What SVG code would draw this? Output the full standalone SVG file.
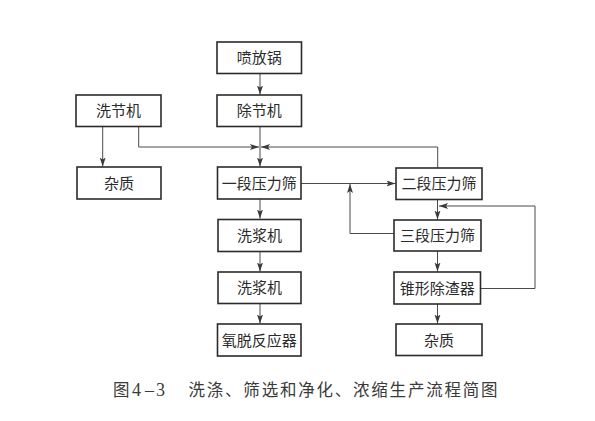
<svg xmlns="http://www.w3.org/2000/svg" width="595" height="421" viewBox="0 0 595 421">
<style>
.box rect{fill:#fff;stroke:#2b2b2b;stroke-width:1.6}
.box text{font-family:"Noto Sans CJK SC","Noto Sans CJK JP",sans-serif;font-size:15px;fill:#2b2b2b;text-anchor:middle}
.conn path{fill:none;stroke:#4a4a4a;stroke-width:1}
.cap{font-size:16.5px;fill:#3a3a3a}
.num{font-family:"Liberation Serif",serif;font-size:18px;fill:#3a3a3a}
</style>
<defs>
<marker id="ah" markerUnits="userSpaceOnUse" markerWidth="10" markerHeight="7" refX="9" refY="3" orient="auto">
<path d="M0,0 L9,3 L0,6 L2,3 Z" fill="#3a3a3a"/>
</marker>
</defs>
<rect width="595" height="421" fill="#fff"/>
<g class="conn">
<path d="M260,73.5 V94.5" marker-end="url(#ah)"/>
<path d="M260,126.5 V166.5" marker-end="url(#ah)"/>
<path d="M102.7,126.5 V166.5" marker-end="url(#ah)"/>
<path d="M138.7,126.5 V147 H259" marker-end="url(#ah)"/>
<path d="M437.7,168 V147 H261" marker-end="url(#ah)"/>
<path d="M301,183.5 H395.5" marker-end="url(#ah)"/>
<path d="M394,233.5 H350 V184" marker-end="url(#ah)"/>
<path d="M437.5,199.5 V219.5" marker-end="url(#ah)"/>
<path d="M437.5,251 V271.5" marker-end="url(#ah)"/>
<path d="M437.5,304 V323.5" marker-end="url(#ah)"/>
<path d="M480,288.5 H535 V206 H439" marker-end="url(#ah)"/>
<path d="M260,199.5 V218.5" marker-end="url(#ah)"/>
<path d="M260,251.5 V271.5" marker-end="url(#ah)"/>
<path d="M260,303.5 V323.5" marker-end="url(#ah)"/>
</g>
<g id="n-penfangguo" class="box"><rect x="217" y="42" width="84.5" height="31.5"/><text x="259.2" y="63">喷放锅</text></g>
<g id="n-chujieji" class="box"><rect x="217" y="95" width="84.5" height="31.5"/><text x="259.2" y="116">除节机</text></g>
<g id="n-xijieji" class="box"><rect x="76" y="95" width="85" height="31.5"/><text x="118.5" y="116">洗节机</text></g>
<g id="n-zazhi1" class="box"><rect x="77" y="167" width="84" height="32"/><text x="119" y="188.5">杂质</text></g>
<g id="n-yiduan" class="box"><rect x="217.5" y="167" width="83.5" height="32"/><text x="259.2" y="188.5">一段压力筛</text></g>
<g id="n-xijiangji1" class="box"><rect x="218" y="219.5" width="83" height="32"/><text x="259.5" y="241">洗浆机</text></g>
<g id="n-xijiangji2" class="box"><rect x="218" y="272" width="83" height="31.5"/><text x="259.5" y="293">洗浆机</text></g>
<g id="n-yangtuo" class="box"><rect x="217.5" y="324" width="83.5" height="32"/><text x="259.2" y="345.5">氧脱反应器</text></g>
<g id="n-erduan" class="box"><rect x="396" y="168" width="86" height="31.5"/><text x="439" y="189">二段压力筛</text></g>
<g id="n-sanduan" class="box"><rect x="394" y="220" width="87" height="31"/><text x="437.5" y="241">三段压力筛</text></g>
<g id="n-zhuixing" class="box"><rect x="394" y="272" width="86.5" height="32"/><text x="437.2" y="293.5">锥形除渣器</text></g>
<g id="n-zazhi2" class="box"><rect x="396" y="324" width="86" height="31.5"/><text x="439" y="345.5">杂质</text></g>
<g id="caption">
<text class="cap" x="113" y="396" font-family="Noto Sans CJK SC, sans-serif">图</text>
<text class="num" x="132" y="396">4</text>
<text class="num" x="145" y="396">–</text>
<text class="num" x="156" y="396">3</text>
<text class="cap" x="188.5" y="396" font-family="Noto Sans CJK SC, sans-serif" textLength="309" lengthAdjust="spacing">洗涤、筛选和净化、浓缩生产流程简图</text>
</g>
</svg>
